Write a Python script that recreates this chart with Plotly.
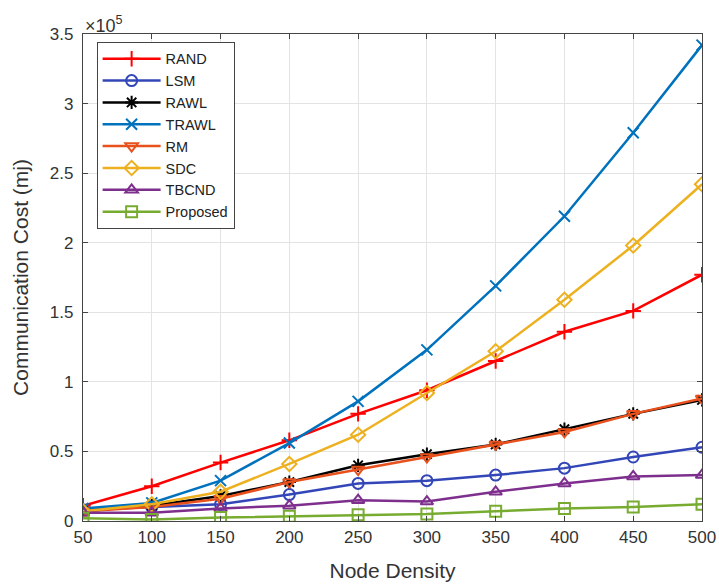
import plotly.graph_objects as go

node_density = [50, 100, 150, 200, 250, 300, 350, 400, 450, 500]

# values in units of 1e5 mJ
rand_v = [0.11, 0.25, 0.42, 0.58, 0.77, 0.94, 1.15, 1.36, 1.51, 1.77]
lsm_v = [0.08, 0.10, 0.12, 0.19, 0.27, 0.29, 0.33, 0.38, 0.46, 0.53]
rawl_v = [0.07, 0.11, 0.18, 0.28, 0.40, 0.48, 0.55, 0.66, 0.77, 0.87]
trawl_v = [0.09, 0.13, 0.29, 0.56, 0.86, 1.23, 1.69, 2.19, 2.79, 3.42]
rm_v = [0.07, 0.10, 0.16, 0.28, 0.37, 0.46, 0.55, 0.64, 0.77, 0.88]
sdc_v = [0.07, 0.12, 0.21, 0.41, 0.62, 0.92, 1.22, 1.59, 1.98, 2.42]
tbcnd_v = [0.06, 0.06, 0.09, 0.11, 0.15, 0.14, 0.21, 0.27, 0.32, 0.33]
proposed_v = [0.02, 0.01, 0.025, 0.035, 0.045, 0.05, 0.07, 0.09, 0.10, 0.12]

series = [
    ("RAND", rand_v, "#FF0000", "cross-thin-open"),
    ("LSM", lsm_v, "#3346B8", "circle-open"),
    ("RAWL", rawl_v, "#000000", "asterisk-open"),
    ("TRAWL", trawl_v, "#0072BD", "x-thin-open"),
    ("RM", rm_v, "#E8501C", "triangle-down-open"),
    ("SDC", sdc_v, "#EDB120", "diamond-open"),
    ("TBCND", tbcnd_v, "#7E2F8E", "triangle-up-open"),
    ("Proposed", proposed_v, "#77AC30", "square-open"),
]

y_ticks = [0, 0.5, 1, 1.5, 2, 2.5, 3, 3.5]
y_ticktext = ["0", "0.5", "1", "1.5", "2", "2.5", "3", "3.5"]

FONT = "Liberation Sans, Arial, Helvetica, sans-serif"

fig = go.Figure()
for name, vals, color, sym in series:
    fig.add_trace(go.Scatter(
        x=node_density, y=vals, name=name, mode="lines+markers",
        line=dict(color=color, width=2.5),
        marker=dict(symbol=sym, size=11, color=color,
                    line=dict(color=color, width=2)),
    ))

axis_common = dict(
    showline=True, linecolor="#444444", linewidth=1.2, mirror="ticks",
    ticks="inside", ticklen=5, tickcolor="#444444",
    showgrid=True, gridcolor="#E3E3E3", gridwidth=1, zeroline=False,
    automargin=False,
    tickfont=dict(size=17, color="#333333", family=FONT),
)

fig.update_layout(
    width=719, height=587,
    margin=dict(l=83, r=17, t=34, b=66),
    paper_bgcolor="white", plot_bgcolor="white",
    font=dict(family=FONT, color="#333333"),
    xaxis=dict(range=[50, 500], tickvals=node_density,
               title=dict(text="Node Density", font=dict(size=21, color="#333333"), standoff=17),
               **axis_common),
    yaxis=dict(range=[0, 3.5], tickvals=y_ticks, ticktext=y_ticktext,
               ticklabelstandoff=5,
               title=dict(text="Communication Cost (mj)", font=dict(size=21, color="#333333"), standoff=15),
               **axis_common),
    legend=dict(x=0.022, y=0.984, xanchor="left", yanchor="top",
                bordercolor="#444444", borderwidth=1, bgcolor="white",
                font=dict(size=14.5, color="#222222", family=FONT), tracegroupgap=0,
                itemwidth=58),
    annotations=[dict(text="×10<sup>5</sup>", xref="paper", yref="paper",
                      x=0, y=1, xanchor="left", yanchor="bottom", showarrow=False,
                      font=dict(size=18, color="#333333"), yshift=-4)],
    showlegend=True,
)

fig.write_html(
    "out.html",
    config={"displayModeBar": False},
    post_script="document.body.style.margin='0';document.body.style.overflow='hidden';",
)
